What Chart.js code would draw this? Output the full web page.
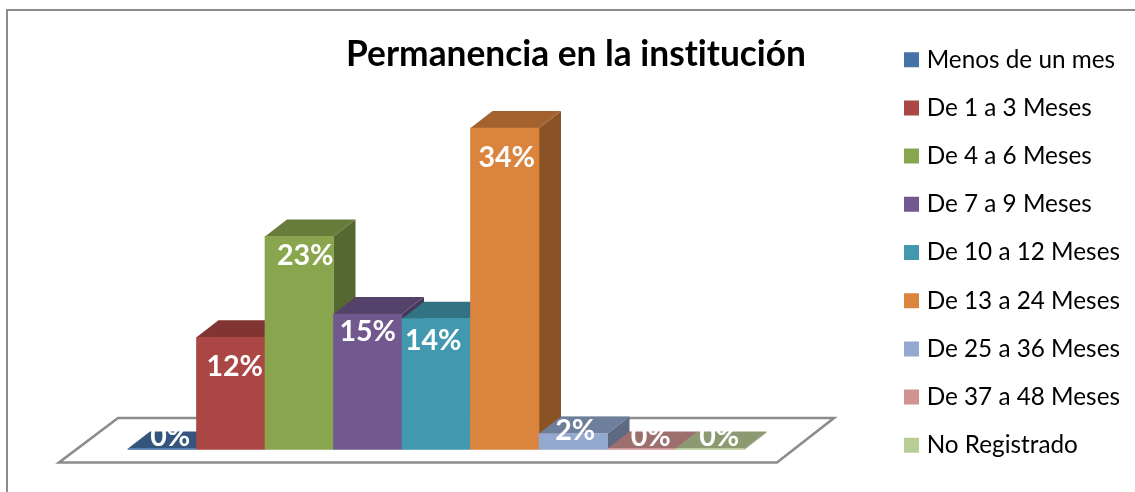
<!DOCTYPE html>
<html><head><meta charset="utf-8">
<style>html,body{margin:0;padding:0;background:#fff}canvas{display:block}</style>
<script src="https://cdn.jsdelivr.net/npm/chart.js@4"></script>
</head><body>
<canvas id="c" width="1135" height="492"></canvas>
<script>
const titleText = 'Permanencia en la institución';
const categories = ['Menos de un mes','De 1 a 3 Meses','De 4 a 6 Meses','De 7 a 9 Meses','De 10 a 12 Meses','De 13 a 24 Meses','De 25 a 36 Meses','De 37 a 48 Meses','No Registrado'];
const values = [0,12.0,22.8,14.5,14.0,34.4,1.7,0,0];
const colors = ['#4572a7','#aa4643','#89a54e','#71588f','#4198af','#db843d','#93a9cf','#d19392','#b9cd96'];
const labelShiftX = [8,4,6,0,-3,2,2,9,9];
const labelShiftY = [-12,29,19,18,22,30,-3,-12,-12];

const depthX = 22, depthY = 17;
function shade(hex,f){const n=parseInt(hex.slice(1),16);
  return 'rgb('+[(n>>16)&255,(n>>8)&255,n&255].map(v=>Math.round(v*f)).join(',')+')';}
function poly(ctx,pts,fill){ctx.beginPath();pts.forEach((p,i)=>i?ctx.lineTo(p[0],p[1]):ctx.moveTo(p[0],p[1]));ctx.closePath();ctx.fillStyle=fill;ctx.fill();}

// Draw the top and side faces of each column just before its front face,
// so that columns overlap from left to right.
const baseDraw = Chart.BarElement.prototype.draw;
Chart.BarElement.prototype.draw = function(ctx){
  const p=this.getProps(['x','y','base','width'],true), l=p.x-p.width/2, r=p.x+p.width/2;
  const c=this.options.backgroundColor;
  ctx.save();
  poly(ctx,[[r,p.y],[r+depthX,p.y-depthY],[r+depthX,p.base-depthY],[r,p.base]],shade(c,0.63));
  poly(ctx,[[l,p.y],[l+depthX,p.y-depthY],[r+depthX,p.y-depthY],[r,p.y]],shade(c,0.75));
  ctx.restore();
  baseDraw.call(this,ctx);
};

const frame3d = {
  id:'frame3d',
  beforeUpdate(chart){
    const lg=chart.legend, fit=lg.constructor.prototype.fit;
    lg.fit=function(){fit.call(this);this.width=250.4;};
  },
  beforeDraw(chart){
    const ctx=chart.ctx;
    ctx.textRendering='optimizeSpeed';
    ctx.save();ctx.strokeStyle='#8c8c8c';ctx.lineWidth=2;
    ctx.beginPath();ctx.moveTo(7,chart.height);ctx.lineTo(7,10);ctx.lineTo(chart.width,10);ctx.stroke();
    ctx.restore();
  },
  beforeDatasetsDraw(chart){
    const ctx=chart.ctx,a=chart.chartArea;
    ctx.save();ctx.strokeStyle='#8c8c8c';ctx.lineWidth=2.6;ctx.lineJoin='miter';
    ctx.beginPath();
    ctx.moveTo(a.left-69,a.bottom+13);ctx.lineTo(a.right+32.5,a.bottom+13);
    ctx.lineTo(a.right+89.5,a.bottom-31.5);ctx.lineTo(a.left-10,a.bottom-31.5);ctx.closePath();
    ctx.fillStyle='#fff';ctx.fill();ctx.stroke();ctx.restore();
  },
  afterDatasetsDraw(chart){
    const ctx=chart.ctx,m=chart.getDatasetMeta(0);
    ctx.save();ctx.fillStyle='#fff';ctx.font='bold 28.6px Lato';ctx.textAlign='center';ctx.textBaseline='middle';
    m.data.forEach((el,i)=>ctx.fillText(Math.round(values[i])+'%',el.x+labelShiftX[i],el.y+labelShiftY[i]));
    ctx.restore();
  }
};

new Chart(document.getElementById('c'),{
  type:'bar',
  data:{labels:categories,datasets:[{data:values,backgroundColor:colors,barPercentage:1,categoryPercentage:1,minBarLength:1,clip:false,borderWidth:0}]},
  plugins:[frame3d],
  options:{
    responsive:false,animation:false,
    layout:{padding:{left:17,top:13,right:0,bottom:0}},
    plugins:{
      tooltip:{enabled:false},
      title:{display:true,text:titleText,color:'#000',align:'center',font:{family:'Lato',size:35.3,weight:'bold'},padding:{top:20.3,bottom:0}},
      legend:{position:'right',align:'center',onClick:null,
        labels:{color:'#000',boxWidth:6,boxHeight:6,padding:23.9,font:{family:'Lato',size:24.3},
          generateLabels:()=>categories.map((t,i)=>({text:t,fillStyle:colors[i],strokeStyle:colors[i],lineWidth:9,hidden:false,index:i,fontColor:'#000'}))}}
    },
    scales:{
      x:{ticks:{display:false},grid:{display:false},border:{display:false},afterFit:s=>{s.height=42.5;}},
      y:{min:0,max:40,ticks:{display:false},grid:{display:false},border:{display:false},afterFit:s=>{s.width=111;}},
      spacer:{type:'linear',position:'right',ticks:{display:false},grid:{display:false},border:{display:false},afterFit:s=>{s.width=140.1;}}
    }
  }
});
</script>
</body></html>
